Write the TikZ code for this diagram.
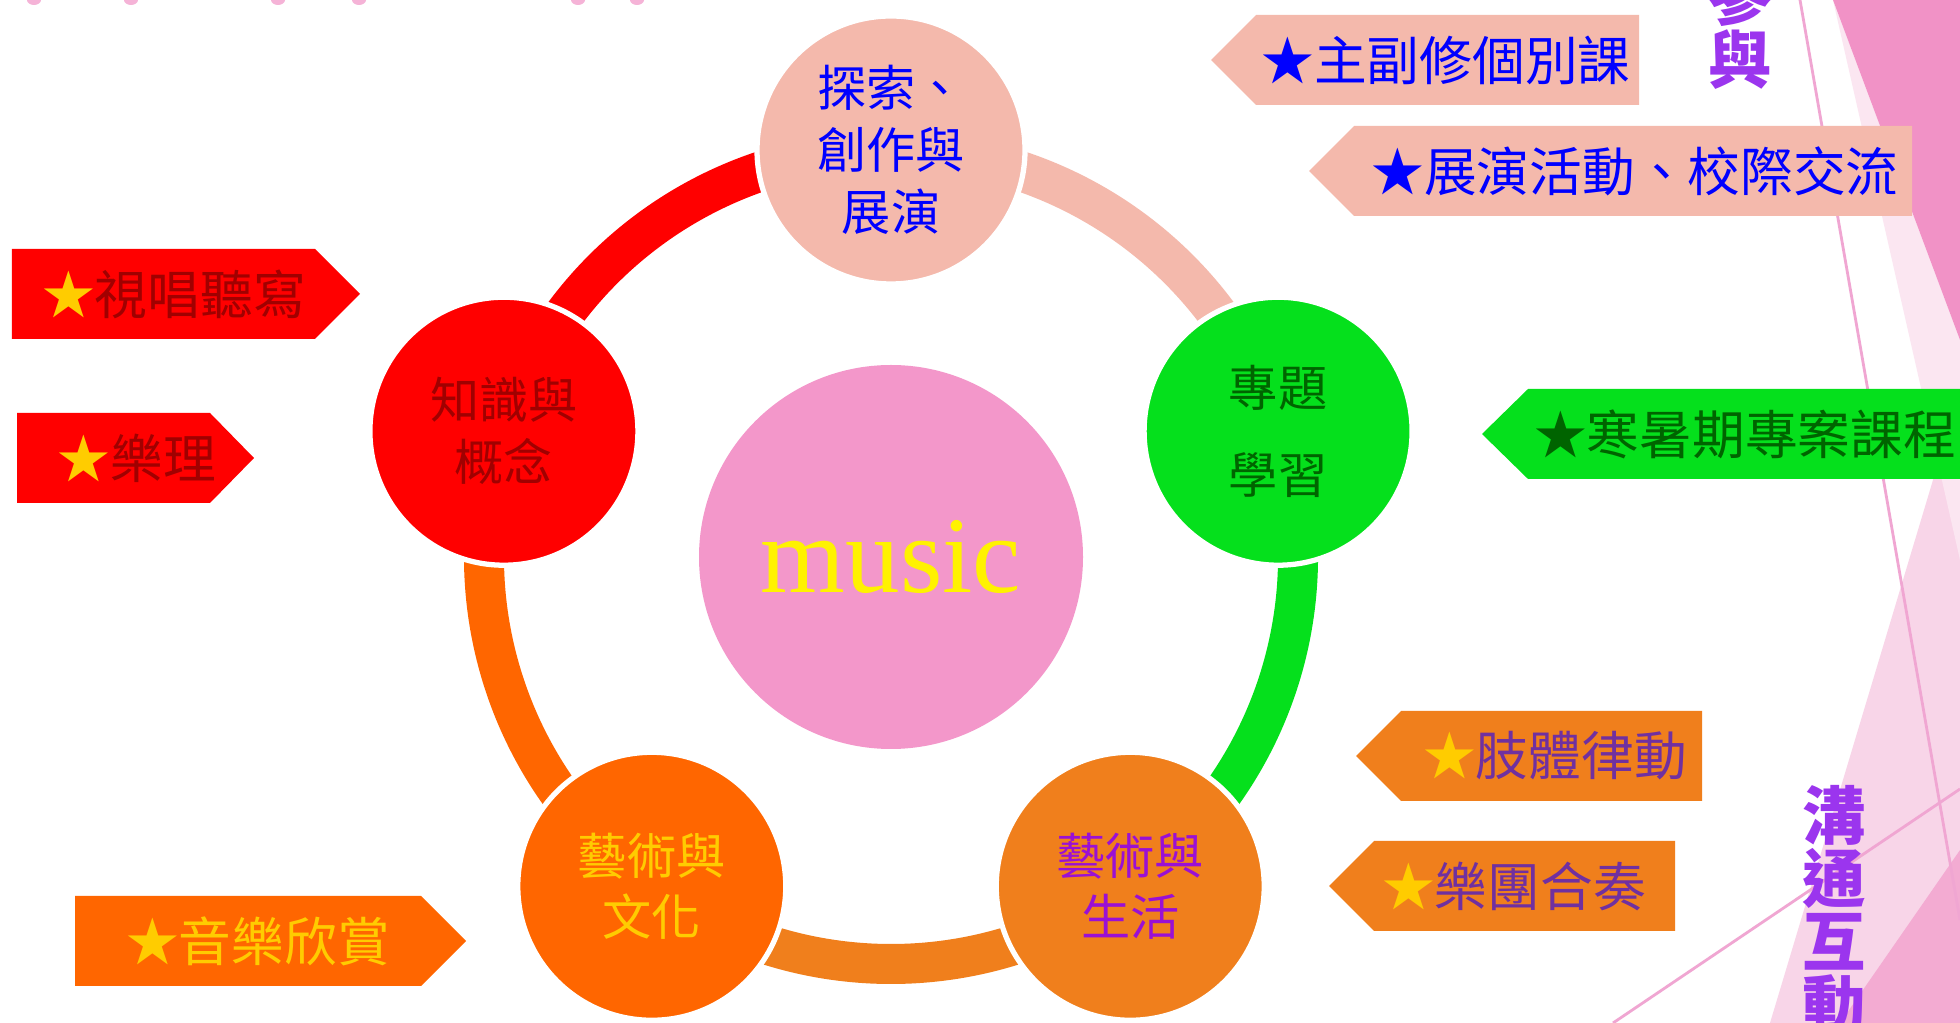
\documentclass[tikz,border=0pt]{standalone}
\usepackage{fontspec}
\setmainfont{Liberation Serif}
\newfontfamily\cjk{Noto Sans CJK TC}
\usetikzlibrary{calc,backgrounds}
\definecolor{salmon}{HTML}{F4B9AC}
\definecolor{kred}{HTML}{FF0000}
\definecolor{pgreen}{HTML}{05E01C}
\definecolor{lorange}{HTML}{F07F1C}
\definecolor{corange}{HTML}{FF6600}
\definecolor{musicpink}{HTML}{F397CA}
\definecolor{darkred}{HTML}{A00000}
\definecolor{darkgreen}{HTML}{006400}
\definecolor{gold}{HTML}{FFCC00}
\definecolor{violet}{HTML}{9A10D4}
\definecolor{plum}{HTML}{7030A0}
\definecolor{wordart}{HTML}{9B35EE}
\definecolor{facetdark}{HTML}{F192C6}
\definecolor{facetlight}{HTML}{FBE6F1}
\definecolor{facetsoft}{HTML}{F8D5E8}
\definecolor{facetmid}{HTML}{F3ABD2}
\definecolor{facetline}{HTML}{F0A6D2}
\tikzstyle{theme}=[circle, minimum size=2.68cm, inner sep=0pt, draw=white, line width=1.5pt, align=center, font=\cjk\fontsize{14}{17.6}\selectfont]
\tikzstyle{ring}=[line width=0.40cm]
\tikzstyle{tagtext}=[inner sep=0pt, font=\cjk\fontsize{15}{18}\selectfont]
\tikzstyle{wordart}=[inner sep=0pt, align=center, text=wordart, font=\cjk\bfseries\fontsize{18}{17.9}\selectfont]
\newcommand{\tagshape}[5]{
 \fill[#1] (#2,#5+.45) -- (#3,#5+.45) -- (#4,#5) -- (#3,#5-.45) -- (#2,#5-.45) -- cycle;
}
\begin{document}
\begin{tikzpicture}
 \useasboundingbox (0,0) rectangle (19.6,-10.23);
 \begin{pgfonlayer}{background}
  \fill[white] (0,0) rectangle (19.6,-10.23);
 \end{pgfonlayer}
 \clip (0,0) rectangle (19.6,-10.23);
%
 \fill[facetsoft] (17.70,-10.23) -- (19.6,-3.9) -- (19.6,-10.23) -- cycle;
 \fill[facetmid] (18.40,-10.23) -- (19.6,-8.5) -- (19.6,-10.23) -- cycle;
 \fill[facetlight] (18.33,0) -- (19.6,-5.6) -- (19.6,-3.4) -- cycle;
 \fill[facetdark] (18.33,0) -- (19.6,0) -- (19.6,-3.4) -- cycle;
 \draw[facetline, line width=.8pt] (18.00,0) -- (19.6,-9.2);
 \draw[facetline, line width=.8pt] (16.13,-10.23) -- (19.6,-7.89);
 \foreach \x in {0.34,1.31,2.78,3.59,5.78,6.37}
  \fill[facetdark!70] (\x,0) ellipse (.07 and .05);
%
 \tagshape{salmon}{16.39}{12.56}{12.11}{-0.60}
 \tagshape{salmon}{19.12}{13.54}{13.09}{-1.71}
 \tagshape{pgreen}{20.00}{15.28}{14.82}{-4.34}
 \tagshape{lorange}{17.02}{14.01}{13.56}{-7.56}
 \tagshape{lorange}{16.75}{13.74}{13.29}{-8.86}
 \tagshape{kred}{0.12}{3.15}{3.60}{-2.94}
 \tagshape{kred}{0.17}{2.10}{2.54}{-4.58}
 \tagshape{corange}{0.75}{4.21}{4.66}{-9.41}
%
 \node[tagtext, text=blue] (major) at (14.46,-0.60) {★主副修個別課};
 \node[tagtext, text=blue] (show) at (16.35,-1.71) {★展演活動、校際交流};
 \node[tagtext, text=darkgreen] (holiday) at (17.45,-4.34) {★寒暑期專案課程};
 \node[tagtext, text=plum] (body) at (15.55,-7.56) {{\color{gold}★}肢體律動};
 \node[tagtext, text=plum] (band) at (15.14,-8.86) {{\color{gold}★}樂團合奏};
 \node[tagtext, text=darkred] (solfege) at (1.74,-2.94) {{\color{gold}★}視唱聽寫};
 \node[tagtext, text=darkred] (theory) at (1.37,-4.58) {{\color{gold}★}樂理};
 \node[tagtext, text=gold] (listen) at (2.58,-9.41) {★音樂欣賞};
%
 \node[theme, fill=musicpink, draw=none, minimum size=3.84cm, text=yellow, font=\fontsize{31}{31}\selectfont] (music) at (8.91,-5.57) {music};
 \node[theme, fill=salmon, text=blue] (explore) at ([shift={(90:4.07)}]music.center) {探索、\\創作與\\展演};
 \node[theme, fill=pgreen, text=darkgreen, font=\cjk\fontsize{14}{24.7}\selectfont] (topic) at ([shift={(18:4.07)}]music.center) {專題\\學習};
 \node[theme, fill=lorange, text=violet] (life) at ([shift={(306:4.07)}]music.center) {藝術與\\生活};
 \node[theme, fill=corange, text=gold] (culture) at ([shift={(234:4.07)}]music.center) {藝術與\\文化};
 \node[theme, fill=kred, text=darkred] (know) at ([shift={(162:4.07)}]music.center) {知識與\\概念};
%
 \begin{pgfonlayer}{background}
  \draw[ring, salmon] (explore.center) arc[start angle=90, end angle=18, radius=4.07];
  \draw[ring, pgreen] (topic.center) arc[start angle=18, end angle=-54, radius=4.07];
  \draw[ring, lorange] (life.center) arc[start angle=-54, end angle=-126, radius=4.07];
  \draw[ring, corange] (culture.center) arc[start angle=234, end angle=162, radius=4.07];
  \draw[ring, kred] (know.center) arc[start angle=162, end angle=90, radius=4.07];
 \end{pgfonlayer}
%
 \node[wordart] (join) at (17.40,-0.28) {參\\與};
 \node[wordart] (talk) at (18.34,-9.10) {溝\\通\\互\\動};
\end{tikzpicture}
\end{document}
